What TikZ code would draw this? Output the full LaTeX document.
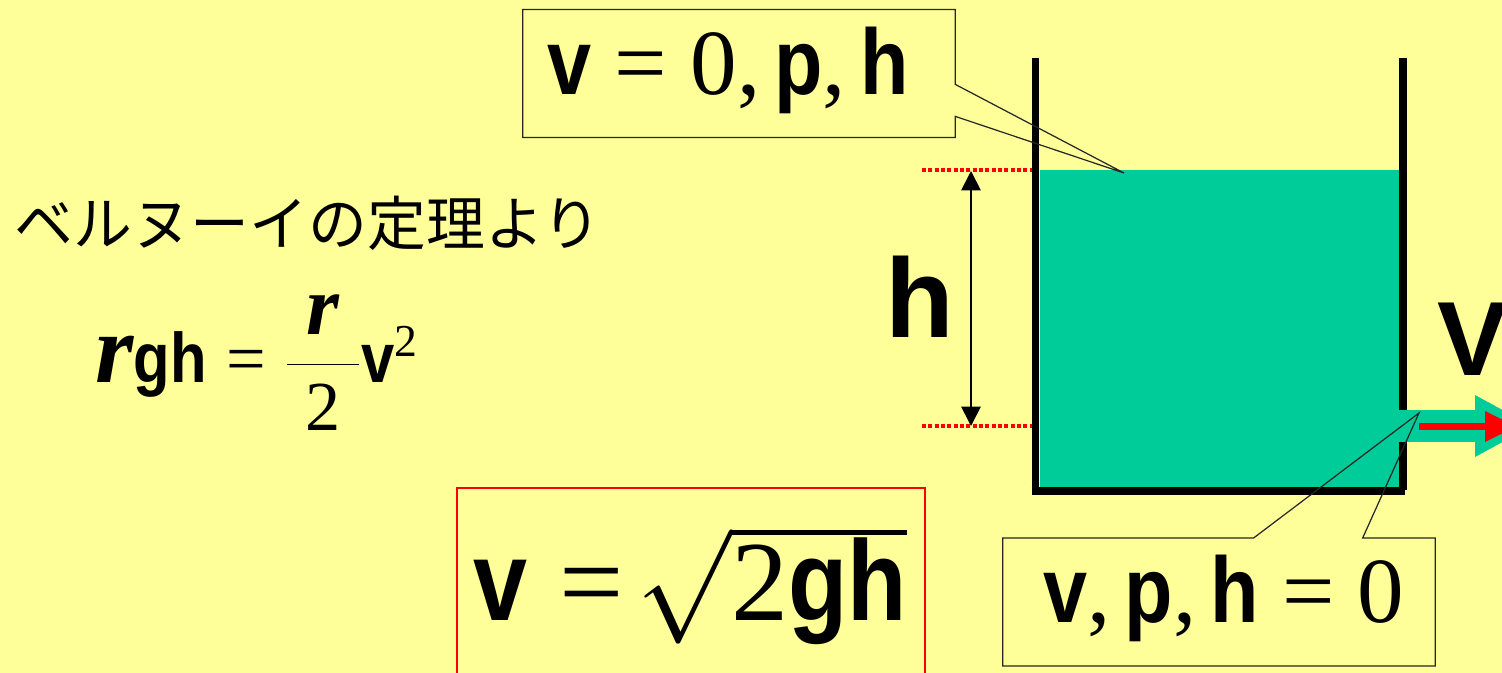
\RequirePackage{fix-cm}
\documentclass[tikz,border=0pt]{standalone}
\usepackage{amsmath}
\usepackage{fontspec}
\setmainfont{Liberation Serif}
\setsansfont{Liberation Sans}
\newfontfamily\eqsf{Liberation Sans}[FakeStretch=0.85]
\newfontfamily\jpfont{Noto Sans CJK JP}
\usetikzlibrary{arrows.meta,calc}
\definecolor{paper}{HTML}{FFFF99}
\definecolor{water}{HTML}{00CC99}
\newcommand{\sfb}[1]{{\eqsf\bfseries #1}}
\newcommand{\rsym}[1][56]{{\fontsize{#1}{#1}\selectfont\bfseries\itshape r}}
\newcommand{\eqsign}{\mathrel{\text{=}}}
\newcommand{\sep}{,\hspace{0.15em}}

\begin{document}
\begin{tikzpicture}[
            x=0.02cm, y=-0.02cm,
            wall/.style={line width=4.5pt, black},
            guide/.style={red, line width=2.3pt, dash pattern=on 2.3pt off 1.3pt},
            dim/.style={{Triangle[width=11pt,length=11pt]}-{Triangle[width=11pt,length=11pt]}, line width=1pt},
            callout/.style={draw=black!85, line width=0.7pt},
            statebox/.style={inner sep=0pt, minimum width=8.64cm, minimum height=2.55cm},
            formula/.style={inner sep=0pt, anchor=base},
            bigfont/.style={font=\fontsize{#1}{#1}\selectfont}
        ]
            \useasboundingbox (0,0) rectangle (1502,673);
            \clip (0,0) rectangle (1502,673);
            \fill[paper] (0,0) rectangle (1502,673);

            % tank and water
            \fill[water] (1040,170) rectangle (1399,487);
            \fill[water] (1399,410) rectangle (1476,442);
            \fill[water] (1475,395) -- (1532,426) -- (1475,457) -- cycle;
            \draw[red, line width=4pt] (1419,426.5) -- (1486,426.5);
            \fill[red] (1485,411) -- (1516,426.5) -- (1485,442) -- cycle;
            \draw[wall] (1035.5,58) -- (1035.5,490);
            \draw[wall] (1403,58) -- (1403,410);
            \draw[wall] (1403,442) -- (1403,490);
            \draw[wall] (1031.5,491) -- (1405,491);

            % height of the water
            \draw[guide] (922,170) -- (1032,170);
            \draw[guide] (922,426) -- (1032,426);
            \coordinate (hTop) at (971,171);
            \coordinate (hBot) at (971,426);
            \draw[dim] (hTop) -- (hBot);
            \node[formula, bigfont=64] (hLabel) at (920,337) {{\sffamily\bfseries h}};
            \node[formula, anchor=base west, bigfont=60] (vOut) at (1437,375) {{\sffamily\bfseries V}};

            % callouts
            \coordinate (surface) at (1124,173);
            \coordinate (outlet) at (1419,413);
            \node[statebox] (topState) at (739,73.5) {};
            \node[statebox] (botState) at (1219,602) {};
            \node[formula, bigfont=53] (topText) at (728,94) {\sfb{v} = 0\sep\sfb{p}\sep\sfb{h}};
            \node[formula, bigfont=53] (botText) at (1224,622) {\sfb{v}\sep\sfb{p}\sep\sfb{h} = 0};
            \draw[callout] (topState.north west) -- (topState.north east)
                -- ($(topState.north east)+(0,75)$) -- (surface)
                -- ($(topState.north east)+(0,107)$) -- (topState.south east)
                -- (topState.south west) -- cycle;
            \draw[callout] (botState.north west) -- ($(botState.north west)+(251,0)$)
                -- (outlet) -- ($(botState.north west)+(360,0)$)
                -- (botState.north east) -- (botState.south east)
                -- (botState.south west) -- cycle;

            % text and formulas
            \node[anchor=west, inner sep=0pt, font=\jpfont\fontsize{33.5}{33.5}\selectfont] (theorem) at (14,223) {ベルヌーイの定理より};
            \node[formula, anchor=base west, bigfont=40] (bernoulli) at (95,382)
                {$\text{\rsym\sfb{gh}} \eqsign \dfrac{\;\text{\rsym[48]}\;}{\text{2}}\text{\sfb{v}}^{\text{\fontsize{26}{26}\selectfont 2}}$};
            \draw[red, line width=0.6pt] (457,488) rectangle (925,700);
            \node[formula, anchor=base west, bigfont=65] (speed) at (473,620)
                {$\text{\sfb{v}} \eqsign \!\sqrt{\text{2\sfb{gh}}}$};
        \end{tikzpicture}
\end{document}
